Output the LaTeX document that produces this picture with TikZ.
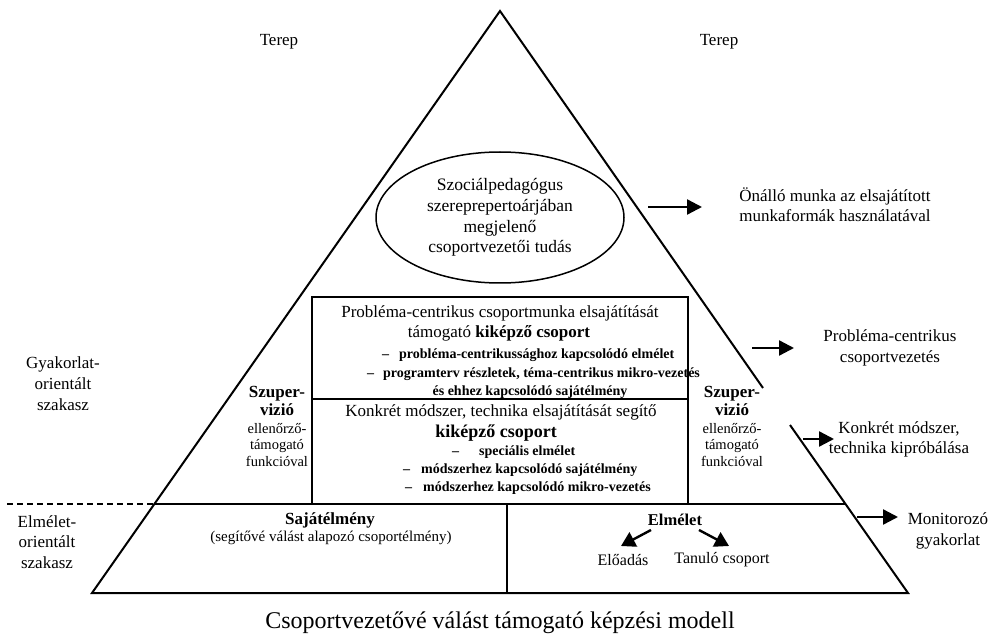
\documentclass[tikz,border=0pt]{standalone}
\usepackage{fontspec}
\setmainfont{Liberation Serif}
\usetikzlibrary{arrows.meta,shapes.geometric}
\begin{document}
\begin{tikzpicture}[x=1pt,y=-1pt,
  lbl/.style={inner sep=0pt, align=center, font=\fontsize{17}{21}\selectfont},
  sml/.style={inner sep=0pt, align=center, font=\fontsize{14.5}{16.8}\selectfont},
  blt/.style={inner sep=0pt, anchor=west, font=\fontsize{14}{17}\selectfont\bfseries},
  tri/.style={line width=2pt, line join=miter},
  thinline/.style={line width=1.3pt},
  boxline/.style={line width=1.8pt},
  arr/.style={line width=2.4pt, -{Triangle[length=15pt,width=15pt]}},
  sarr/.style={line width=2.4pt, -{Triangle[length=14pt,width=16pt]}},
]
\useasboundingbox (0,0) rectangle (994,639);
\fill[white] (0,0) rectangle (994,639);

% triangle with gap on right side
\coordinate (apex) at (500,11);
\coordinate (bl) at (92,593);
\coordinate (br) at (908,593);
\coordinate (gapu) at (763,388);
\coordinate (gapl) at (790,425);
\draw[tri] (gapu) -- (apex) -- (bl) -- (br) -- (gapl);

% horizontal section line
\coordinate (hl0) at (7,504);
\coordinate (hl1) at (155,504);
\coordinate (hl2) at (845,504);
\draw[thinline, dash pattern=on 6pt off 4pt] (hl0) -- (hl1);
\draw[thinline] (hl1) -- (hl2);
\coordinate (dv0) at (507,504);
\coordinate (dv1) at (507,593);
\draw[thinline] (dv0) -- (dv1);

% inner box
\coordinate (b1) at (312,504);
\coordinate (b2) at (312,297);
\coordinate (b3) at (688,297);
\coordinate (b4) at (688,504);
\draw[boxline] (b1) -- (b2) -- (b3) -- (b4);
\coordinate (m1) at (312,399);
\coordinate (m2) at (688,399);
\draw[line width=1.5pt] (m1) -- (m2);

% ellipse
\node[draw, ellipse, line width=1.5pt, minimum width=248pt, minimum height=131pt, inner sep=0pt,
  align=center, font=\fontsize{17.5}{20.7}\selectfont] (ell) at (500,217.5)
  {Szociálpedagógus\\szereprepertoárjában\\megjelenő\\csoportvezetői tudás};

% top labels
\node[lbl] (terepL) at (279,42) {Terep};
\node[lbl] (terepR) at (719,42) {Terep};

% box 1 text
\node[lbl] (p1) at (500,313) {Probléma-centrikus csoportmunka elsajátítását};
\node[lbl] (p2) at (499,333) {támogató \textbf{kiképző csoport}};
\node[blt] (p3) at (382,355) {–\hspace{10pt}probléma-centrikussághoz kapcsolódó elmélet};
\node[blt] (p4) at (367,374) {–\hspace{9pt}programterv részletek, téma-centrikus mikro-vezetés};
\node[inner sep=0pt, font=\fontsize{14}{17}\selectfont\bfseries] (p5) at (530,392) {és ehhez kapcsolódó sajátélmény};

% box 2 text
\node[lbl] (k1) at (501,412) {Konkrét módszer, technika elsajátítását segítő};
\node[lbl, font=\fontsize{18}{21}\selectfont\bfseries] (k2) at (496,433) {kiképző csoport};
\node[blt] (k3) at (452,452) {–\hspace{20pt}speciális elmélet};
\node[blt] (k4) at (403,470) {–\hspace{11pt}módszerhez kapcsolódó sajátélmény};
\node[blt] (k5) at (405,488) {–\hspace{11pt}módszerhez kapcsolódó mikro-vezetés};

% supervision labels
\node[lbl, font=\fontsize{17}{18.5}\selectfont\bfseries] (svL) at (277,401) {Szuper-\\vizió};
\node[sml] (svLs) at (277,445) {ellenőrző-\\támogató\\funkcióval};
\node[lbl, font=\fontsize{17}{18.5}\selectfont\bfseries] (svR) at (732,401) {Szuper-\\vizió};
\node[sml] (svRs) at (732,445) {ellenőrző-\\támogató\\funkcióval};

% left labels
\node[lbl] (gyak) at (63,384) {Gyakorlat-\\orientált\\szakasz};
\node[lbl, font=\fontsize{17}{20.5}\selectfont] (elm) at (47,542) {Elmélet-\\orientált\\szakasz};

% bottom section
\node[lbl, font=\fontsize{17}{21}\selectfont\bfseries] (saj) at (330,520) {Sajátélmény};
\node[inner sep=0pt, font=\fontsize{15}{18}\selectfont] (saj2) at (331,538) {(segítővé válást alapozó csoportélmény)};
\node[inner sep=0pt, font=\fontsize{16.5}{20}\selectfont\bfseries] (elmelet) at (675,520) {Elmélet};
\node[inner sep=0pt, font=\fontsize{16}{20}\selectfont] (eloadas) at (623,560) {Előadás};
\node[inner sep=0pt, font=\fontsize{16}{20}\selectfont] (tanulo) at (722,560) {Tanuló csoport};
\coordinate (e1s) at (651,530);
\coordinate (e1t) at (621,546);
\coordinate (e2s) at (699,530);
\coordinate (e2t) at (729,546);
\draw[sarr] (e1s) -- (e1t);
\draw[sarr] (e2s) -- (e2t);

% right outputs
\node[lbl, font=\fontsize{17}{20}\selectfont] (onallo) at (835,205) {Önálló munka az elsajátított\\munkaformák használatával};
\node[lbl] (probc) at (890,347.5) {Probléma-centrikus\\csoportvezetés};
\node[lbl, font=\fontsize{17}{19.5}\selectfont] (konk) at (899,439.5) {Konkrét módszer,\\technika kipróbálása};
\node[lbl] (monit) at (948,531) {Monitorozó\\gyakorlat};

\coordinate (a1s) at (648,207);
\coordinate (a1t) at (702,207);
\coordinate (a2s) at (752,348);
\coordinate (a2t) at (794,348);
\coordinate (a3s) at (803,439);
\coordinate (a3t) at (834,439);
\coordinate (a4s) at (857,517);
\coordinate (a4t) at (898,517);
\draw[arr] (a1s) -- (a1t);
\draw[arr] (a2s) -- (a2t);
\draw[arr] (a3s) -- (a3t);
\draw[arr] (a4s) -- (a4t);

% title
\node[inner sep=0pt, font=\fontsize{24}{28}\selectfont] (title) at (500,623) {Csoportvezetővé válást támogató képzési modell};
\end{tikzpicture}
\end{document}
